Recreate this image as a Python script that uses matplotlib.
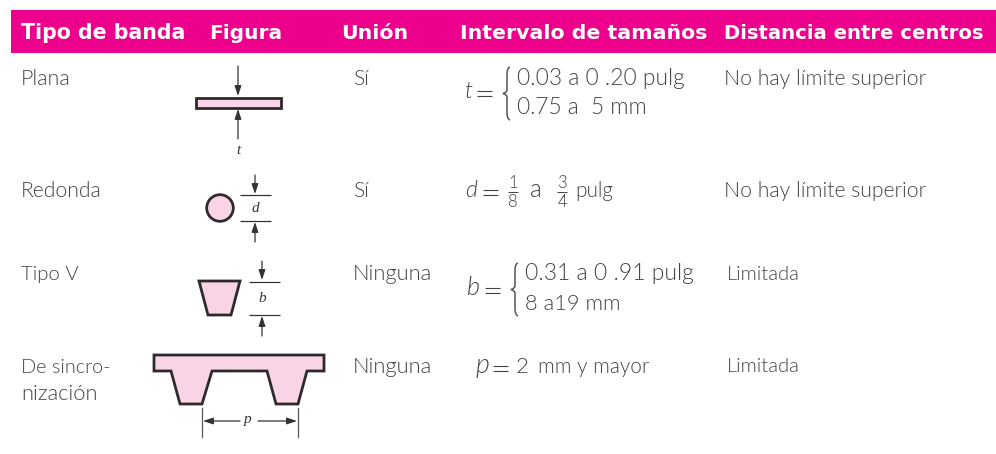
import matplotlib
matplotlib.use('Agg')
import matplotlib.pyplot as plt
from matplotlib.patches import Rectangle, Polygon, Circle, PathPatch
from matplotlib.path import Path

# table text, with the x start and width each one takes in the picture
headers = ['Tipo de banda', 'Figura', 'Unión', 'Intervalo de tamaños', 'Distancia entre centros']
header_x = [21, 209, 341, 460, 724]
header_w = [165, 73, 67, 247, 261]
tipos = ['Plana', 'Redonda', 'Tipo V', 'De sincro-', 'nización']
tipos_y = [85, 197, 280, 373, 400]
tipos_w = [50, 81, 58, 90, 77]
union = ['Sí', 'Sí', 'Ninguna', 'Ninguna']
union_y = [85, 197, 280, 373]
union_w = [16, 16, 80, 80]
distancia = ['No hay límite superior', 'No hay límite superior', 'Limitada', 'Limitada']
distancia_x = [724, 724, 727, 727]
distancia_y = [85, 197, 280, 372]
distancia_w = [202, 202, 73, 73]

PINK = '#EC008C'
FILL = '#F9D3E6'
EDGE = '#2E2A2B'
GREY = '#555555'
BODY = dict(family='Lato', weight=300, color='#444444', va='baseline')
MATH = dict(family='Liberation Serif', style='italic', color='#333333', fontsize=11,
            ha='center', va='center')

fig = plt.figure(figsize=(9.96, 4.54), dpi=100)
ax = fig.add_axes([0, 0, 1, 1])
ax.set_xlim(0, 996)
ax.set_ylim(454, 0)
ax.axis('off')
renderer = fig.canvas.get_renderer()


def fit(x, y, s, w, **kw):
    # scale the font so the string spans w pixels
    style = {**BODY, **kw}
    t = ax.text(x, y, s, fontsize=14, **style)
    t.set_fontsize(14 * w / t.get_window_extent(renderer).width)
    return t


def arrow(x0, y0, x1, y1):
    ax.annotate('', xy=(x1, y1), xytext=(x0, y0),
                arrowprops=dict(arrowstyle='-|>,head_length=0.6,head_width=0.2', color='#333333',
                                lw=0.9, shrinkA=0, shrinkB=0))


def hline(x0, x1, y, lw=0.9, color='#333333'):
    ax.plot([x0, x1], [y, y], color=color, lw=lw, solid_capstyle='butt')


def brace(x, y0, y1):
    m = (y0 + y1) / 2
    verts = [(x + 3, y0), (x, y0 + 1), (x, y0 + 7), (x, m - 4),
             (x, m - 1), (x - 4, m),
             (x, m + 1), (x, m + 4), (x, y1 - 7),
             (x, y1 - 1), (x + 3, y1)]
    codes = [Path.MOVETO, Path.CURVE3, Path.CURVE3, Path.LINETO,
             Path.CURVE3, Path.CURVE3,
             Path.CURVE3, Path.CURVE3, Path.LINETO,
             Path.CURVE3, Path.CURVE3]
    ax.add_patch(PathPatch(Path(verts, codes), fc='none', ec='#555555', lw=1.1))


def equals(x, y, w=15):
    # long thin equals sign
    hline(x, x + w, y - 2.5, lw=0.8, color='#444444')
    hline(x, x + w, y + 2.5, lw=0.8, color='#444444')


# header band
ax.add_patch(Rectangle((11, 10), 985, 43, fc=PINK, ec='none'))
for x, h, w in zip(header_x, headers, header_w):
    fit(x, 39, h, w, family='DejaVu Sans', weight='bold', color='white')

for y, t, w in zip(tipos_y, tipos, tipos_w):
    fit(21, y, t, w)
for y, t, w in zip(union_y, union, union_w):
    fit(353, y, t, w)
for x, y, t, w in zip(distancia_x, distancia_y, distancia, distancia_w):
    fit(x, y, t, w)

# intervalo de tamanos
fit(464, 98, 't', 8, style='italic')
equals(477, 93)
brace(507, 67, 120)
fit(517, 85, '0.03 a 0 .20 pulg', 168)
fit(517, 114, '0.75 a  5 mm', 130)

fit(465, 197, 'd', 12, style='italic')
equals(483, 192)
ax.text(513, 188, '1', ha='center', fontsize=12, **BODY)
hline(508, 518, 192, lw=0.7, color='#444444')
ax.text(513, 207, '8', ha='center', fontsize=12, **BODY)
fit(530, 197, 'a', 12)
ax.text(562, 188, '3', ha='center', fontsize=12, **BODY)
hline(557, 567, 192, lw=0.7, color='#444444')
ax.text(562, 207, '4', ha='center', fontsize=12, **BODY)
fit(575, 197, 'pulg', 38)

fit(467, 295, 'b', 13, style='italic')
equals(485, 290)
brace(515, 263, 316)
fit(525, 280, '0.31 a 0 .91 pulg', 168)
fit(525, 310, '8 a19 mm', 96)

fit(475, 373, 'p', 14, style='italic')
equals(493, 368)
ax.text(516, 373, '2', fontsize=16, **BODY)
fit(538, 373, 'mm y mayor', 111)

# plana
ax.add_patch(Rectangle((196, 97.5), 85, 10.5, fc=FILL, ec=EDGE, lw=2))
arrow(238, 66, 238, 96)
arrow(238, 139, 238, 109)
ax.text(238, 151, 't', **MATH)

# redonda
ax.add_patch(Circle((220, 208), 13.3, fc=FILL, ec=EDGE, lw=2))
hline(240, 271, 195)
hline(240, 271, 221)
arrow(255, 175, 255, 194)
arrow(255, 242, 255, 222)
ax.text(255, 208, 'd', **MATH)

# tipo V
ax.add_patch(Polygon([(199, 281), (240, 281), (231, 315), (208, 315)], fc=FILL, ec=EDGE, lw=2))
hline(249, 280, 281.5)
hline(249, 280, 315)
arrow(262, 261, 262, 280)
arrow(262, 336, 262, 316)
ax.text(262, 299, 'b', **MATH)

# sincronizacion
ax.add_patch(Polygon([(154, 355), (324, 355), (324, 371), (307, 371), (298, 404), (276, 404),
                      (267, 371), (212, 371), (202, 404), (180, 404), (171, 371), (154, 371)],
                     fc=FILL, ec=EDGE, lw=2))
ax.plot([202, 202], [408, 437], color=GREY, lw=0.9)
ax.plot([298, 298], [408, 437], color=GREY, lw=0.9)
arrow(240, 421, 203, 421)
arrow(258, 421, 297, 421)
ax.text(248, 420, 'p', **MATH)

fig.savefig('out.png', dpi=100)
